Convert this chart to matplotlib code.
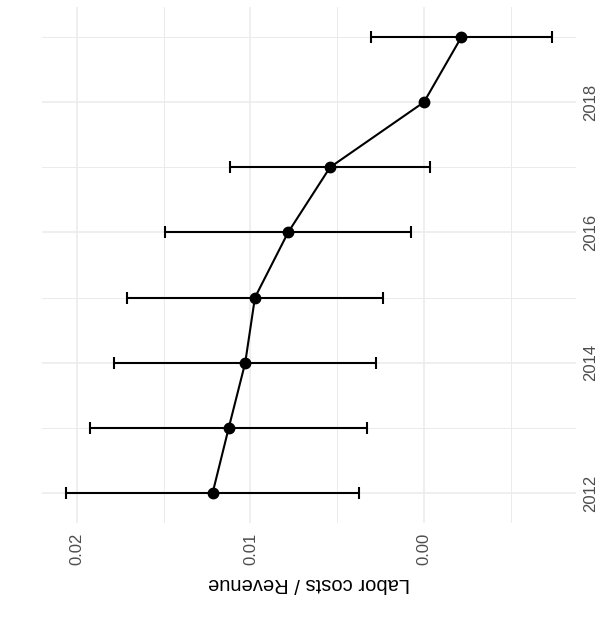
import numpy as np
import matplotlib
matplotlib.use("Agg")
import matplotlib.pyplot as plt
from matplotlib.ticker import FixedLocator

plt.rcParams['font.family'] = ['Liberation Sans', 'DejaVu Sans']

# Event-study coefficients of labor costs / revenue by year (2018 = reference)
years = [2012, 2013, 2014, 2015, 2016, 2017, 2018, 2019]
coef = [0.01218, 0.01125, 0.0103, 0.00974, 0.00783, 0.00541, 0.0, -0.00216]
ci_half = [0.00843, 0.00799, 0.00756, 0.00739, 0.00708, 0.00575, np.nan, 0.0052]

value_ticks = [0.02, 0.01, 0.00]
value_labels = ["0.02", "0.01", "0.00"]
year_ticks = [2012, 2014, 2016, 2018]
year_labels = ["2012", "2014", "2016", "2018"]

fig = plt.figure(figsize=(6.04, 6.18), dpi=100)
ax = fig.add_axes([42 / 604, 1 - 523 / 618, 534 / 604, 516 / 618])

grid_col = "#EBEBEB"
ax.set_axisbelow(True)

ax.errorbar(coef, years, xerr=ci_half, fmt="none", ecolor="black",
            elinewidth=1.5, capsize=4.5, capthick=1.5, zorder=2)
ax.plot(coef, years, color="black", lw=1.5, zorder=3)
ax.plot(coef, years, "o", color="black", ms=7.5, zorder=4)

ax.set_xlim(0.02201, -0.00876)
ax.set_ylim(2011.54, 2019.46)

ax.xaxis.set_major_locator(FixedLocator(value_ticks))
ax.set_xticklabels(value_labels, rotation=90)
ax.xaxis.set_minor_locator(FixedLocator([0.015, 0.005, -0.005]))
ax.yaxis.set_major_locator(FixedLocator(year_ticks))
ax.set_yticklabels(year_labels, rotation=90, va="center")
ax.yaxis.set_minor_locator(FixedLocator([2013, 2015, 2017, 2019]))
ax.yaxis.tick_right()

ax.grid(which="major", color=grid_col, lw=1.1)
ax.grid(which="minor", color=grid_col, lw=0.7)
ax.tick_params(which="both", length=0)
ax.tick_params(axis="x", pad=7, labelsize=12, labelcolor="#4D4D4D")
ax.tick_params(axis="y", pad=5, labelsize=12, labelcolor="#4D4D4D")
for s in ax.spines.values():
    s.set_visible(False)

fig.text((42 + 576) / 2 / 604, 1 - 583 / 618, "Labor costs / Revenue",
         rotation=180, ha="center", va="center", fontsize=14.5, color="black")

fig.savefig("out.png", dpi=100, facecolor="white")
